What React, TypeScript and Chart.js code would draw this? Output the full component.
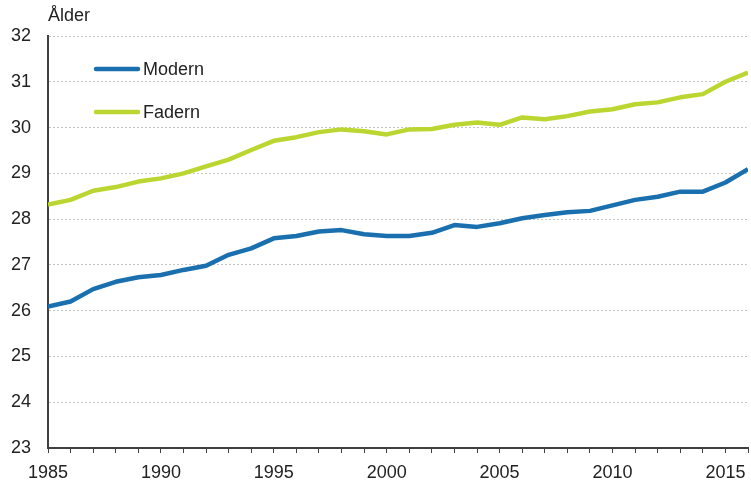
import React, { useEffect, useRef } from "react";
import { Chart, registerables } from "chart.js";

Chart.register(...registerables);

const years = [1985, 1986, 1987, 1988, 1989, 1990, 1991, 1992, 1993, 1994, 1995, 1996, 1997, 1998, 1999, 2000, 2001, 2002, 2003, 2004, 2005, 2006, 2007, 2008, 2009, 2010, 2011, 2012, 2013, 2014, 2015, 2016];
const modern = [26.09, 26.2, 26.47, 26.63, 26.73, 26.78, 26.89, 26.98, 27.22, 27.36, 27.58, 27.63, 27.73, 27.76, 27.67, 27.63, 27.63, 27.7, 27.87, 27.83, 27.91, 28.02, 28.09, 28.15, 28.18, 28.3, 28.42, 28.49, 28.6, 28.6, 28.8, 29.09];
const fadern = [28.32, 28.42, 28.62, 28.7, 28.82, 28.89, 29.0, 29.15, 29.3, 29.51, 29.71, 29.79, 29.9, 29.96, 29.92, 29.85, 29.96, 29.97, 30.06, 30.11, 30.06, 30.22, 30.18, 30.25, 30.35, 30.4, 30.51, 30.55, 30.66, 30.73, 31.0, 31.2];
const seriesNames = ["Modern", "Fadern"];
const yTitle = "Ålder";

const FONT = "'Liberation Sans', Arial, sans-serif";
const BLUE = "#1a70af";
const GREEN = "#bcd631";

const overlay = {
  id: "overlay",
  afterDraw(chart: any) {
    const ctx = chart.ctx;
    ctx.save();
    ctx.font = `18px ${FONT}`;
    ctx.fillStyle = "#222";
    ctx.textBaseline = "middle";
    ctx.textAlign = "left";
    ctx.fillText(yTitle, 48, 16);
    const rows = [69, 112];
    chart.data.datasets.forEach((ds: any, i: number) => {
      const y = rows[i];
      ctx.strokeStyle = ds.borderColor;
      ctx.lineWidth = 4.5;
      ctx.lineCap = "round";
      ctx.beginPath();
      ctx.moveTo(96, y);
      ctx.lineTo(138, y);
      ctx.stroke();
      ctx.fillStyle = "#222";
      ctx.fillText(ds.label, 143, y + 1);
    });
    ctx.restore();
  },
};

export default function App() {
  const ref = useRef<HTMLCanvasElement>(null);
  useEffect(() => {
    document.body.style.margin = "0";
    const chart = new Chart(ref.current!, {
      type: "line",
      data: {
        datasets: [
          {
            label: seriesNames[0],
            data: years.map((x, i) => ({ x, y: modern[i] })),
            borderColor: BLUE,
            borderWidth: 4.5,
            pointRadius: 0,
            tension: 0,
            borderJoinStyle: "round",
          },
          {
            label: seriesNames[1],
            data: years.map((x, i) => ({ x, y: fadern[i] })),
            borderColor: GREEN,
            borderWidth: 4.5,
            pointRadius: 0,
            tension: 0,
            borderJoinStyle: "round",
          },
        ],
      },
      options: {
        animation: false,
        responsive: false,
        layout: { padding: { top: 36, right: 3, left: 0, bottom: 0 } },
        plugins: { legend: { display: false }, tooltip: { enabled: false } },
        scales: {
          x: {
            type: "linear",
            min: 1985,
            max: 2016,
            afterFit: (s: any) => {
              s.height = 33;
              s.paddingLeft = 0;
              s.paddingRight = 0;
            },
            grid: { drawOnChartArea: false, drawTicks: true, tickLength: 5, color: "#404040", lineWidth: 1 },
            border: { display: true, color: "#404040", width: 2 },
            ticks: {
              stepSize: 1,
              autoSkip: false,
              maxRotation: 0,
              padding: 9,
              color: "#222",
              font: { family: FONT, size: 18 },
              callback: (v: any) => (Number(v) % 5 === 0 ? String(v) : ""),
            },
          },
          y: {
            min: 23,
            max: 32,
            afterFit: (s: any) => {
              s.width = 48;
              s.paddingTop = 0;
              s.paddingBottom = 0;
            },
            grid: { drawTicks: false, color: "#c4c4c4", lineWidth: 1 },
            border: { display: true, color: "#404040", width: 2, dash: [2, 2] },
            ticks: {
              stepSize: 1,
              padding: 17,
              color: "#222",
              font: { family: FONT, size: 18 },
            },
          },
        },
      },
      plugins: [overlay],
    });
    return () => chart.destroy();
  }, []);
  return <canvas ref={ref} width={751} height={481} />;
}
